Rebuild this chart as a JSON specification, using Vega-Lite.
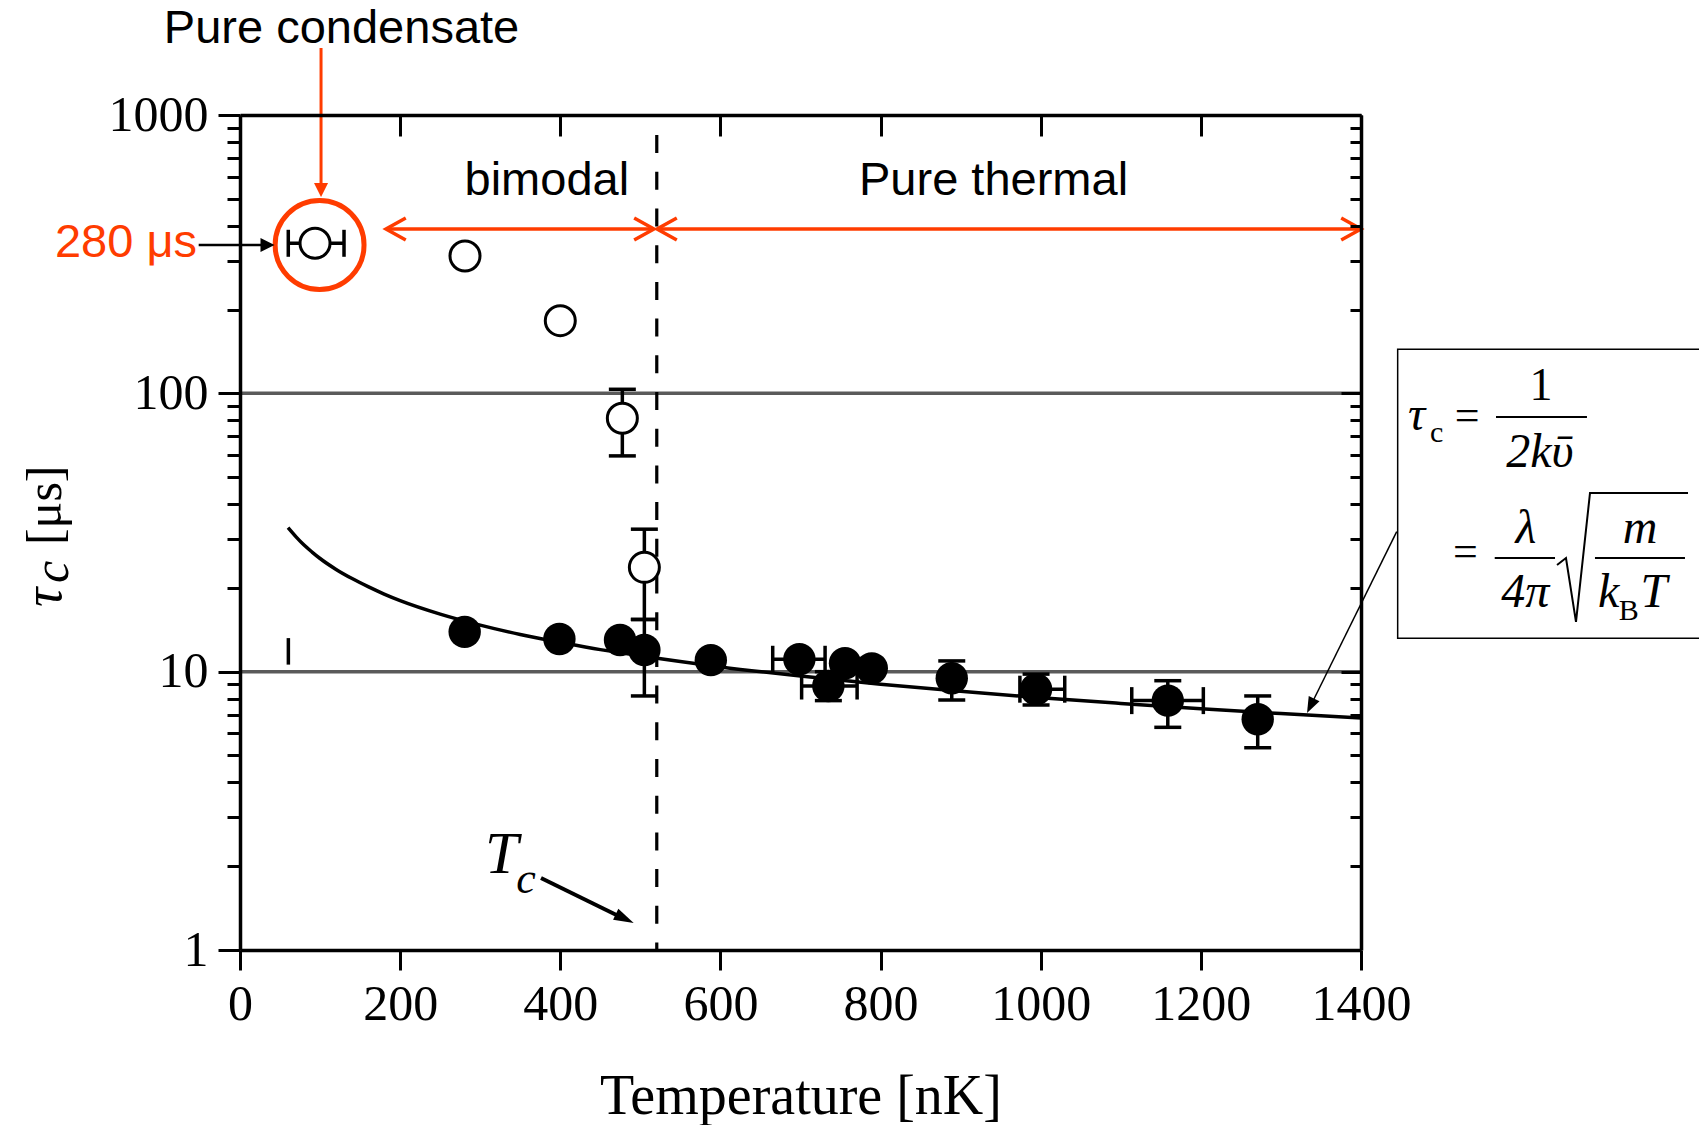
{
  "$schema": "https://vega.github.io/schema/vega-lite/v6.json",
  "autosize": {"type": "none"},
  "padding": {"left": 240, "top": 115, "right": 338, "bottom": 175},
  "width": 1121,
  "height": 835,
  "background": "white",
  "config": {"view": {"stroke": null}},
  "resolve": {"axis": {"x": "independent", "y": "independent"}},
  "layer": [
    {
      "data": {"values": [{"tau": 10}, {"tau": 100}]},
      "mark": {"type": "rule", "color": "#5a5a5a", "strokeWidth": 3.5},
      "encoding": {
        "y": {"field": "tau", "type": "quantitative", "scale": {"type": "log", "domain": [1, 1000], "nice": false}, "axis": null}
      }
    },
    {
      "data": {"values": [{"T": 520.5}]},
      "mark": {"type": "rule", "color": "black", "strokeWidth": 3.2, "strokeDash": [18, 18.7], "strokeDashOffset": 16.6},
      "encoding": {
        "x": {"field": "T", "type": "quantitative", "scale": {"domain": [0, 1400], "nice": false, "zero": false}, "axis": null}
      }
    },
    {
      "data": {"values": [
        {"T": 60, "tau": 32.9}, {"T": 70, "tau": 30.5}, {"T": 80, "tau": 28.5}, {"T": 90, "tau": 26.9},
        {"T": 100, "tau": 25.5}, {"T": 120, "tau": 23.3}, {"T": 140, "tau": 21.6}, {"T": 160, "tau": 20.2},
        {"T": 180, "tau": 19.0}, {"T": 200, "tau": 18.0}, {"T": 250, "tau": 16.1}, {"T": 300, "tau": 14.7},
        {"T": 350, "tau": 13.6}, {"T": 400, "tau": 12.75}, {"T": 450, "tau": 12.0}, {"T": 500, "tau": 11.4},
        {"T": 600, "tau": 10.4}, {"T": 700, "tau": 9.64}, {"T": 800, "tau": 9.02}, {"T": 900, "tau": 8.5},
        {"T": 1000, "tau": 8.06}, {"T": 1100, "tau": 7.69}, {"T": 1200, "tau": 7.36}, {"T": 1300, "tau": 7.07},
        {"T": 1400, "tau": 6.81}
      ]},
      "mark": {"type": "line", "color": "black", "strokeWidth": 3.5, "interpolate": "monotone"},
      "encoding": {
        "x": {"field": "T", "type": "quantitative", "scale": {"domain": [0, 1400], "nice": false, "zero": false},
          "axis": {"orient": "bottom", "values": [0, 200, 400, 600, 800, 1000, 1200, 1400], "format": "d",
            "tickSize": 20, "tickWidth": 3, "tickColor": "black", "domainColor": "black", "domainWidth": 3.5,
            "labelFont": "Liberation Serif", "labelFontSize": 50, "labelColor": "black", "labelPadding": 9,
            "labelFlush": false, "labelOverlap": false, "grid": false, "zindex": 1,
            "title": "Temperature [nK]", "titleFont": "Liberation Serif", "titleFontSize": 56,
            "titleFontWeight": "normal", "titleColor": "black", "titleBaseline": "alphabetic", "titleY": 163}},
        "y": {"field": "tau", "type": "quantitative", "scale": {"type": "log", "domain": [1, 1000], "nice": false},
          "axis": {"orient": "left",
            "values": [1, 2, 3, 4, 5, 6, 7, 8, 9, 10, 20, 30, 40, 50, 60, 70, 80, 90, 100, 200, 300, 400, 500, 600, 700, 800, 900, 1000],
            "labelExpr": "indexof([1, 10, 100, 1000], datum.value) >= 0 ? format(datum.value, 'd') : ''",
            "tickSize": {"condition": {"test": "indexof([1, 10, 100, 1000], datum.value) >= 0", "value": 22}, "value": 13},
            "tickWidth": 3, "tickColor": "black", "domainColor": "black", "domainWidth": 3.5,
            "labelFont": "Liberation Serif", "labelFontSize": 50, "labelColor": "black", "labelPadding": 10,
            "labelFlush": false, "labelOverlap": false, "grid": false, "zindex": 1, "title": null}}
      }
    },
    {
      "data": {"values": [
        {"T": 477.5, "tau": 59.6, "tau2": 103.4},
        {"T": 505, "tau": 15.4, "tau2": 32.5},
        {"T": 505, "tau": 8.18, "tau2": 15.4},
        {"T": 734.8, "tau": 7.87, "tau2": 10.0},
        {"T": 888.9, "tau": 7.91, "tau2": 10.93},
        {"T": 994.2, "tau": 7.59, "tau2": 9.8},
        {"T": 1158.7, "tau": 6.31, "tau2": 9.28},
        {"T": 1271, "tau": 5.33, "tau2": 8.18}
      ]},
      "mark": {"type": "errorbar", "size": 27, "thickness": 3.5, "color": "black",
        "ticks": {"color": "black", "opacity": 1}, "rule": {"color": "black", "opacity": 1}},
      "encoding": {
        "x": {"field": "T", "type": "quantitative", "scale": {"domain": [0, 1400], "nice": false, "zero": false}, "axis": null},
        "y": {"field": "tau", "type": "quantitative", "scale": {"type": "log", "domain": [1, 1000], "nice": false}, "axis": null},
        "y2": {"field": "tau2"}
      }
    },
    {
      "data": {"values": [
        {"T": 60.3, "T2": 129.9, "tau": 346},
        {"T": 665.3, "T2": 730.7, "tau": 11.08},
        {"T": 701.4, "T2": 770.7, "tau": 8.88},
        {"T": 974, "T2": 1030, "tau": 8.65},
        {"T": 1113.7, "T2": 1203.1, "tau": 7.87}
      ]},
      "mark": {"type": "errorbar", "size": 27, "thickness": 3.5, "color": "black",
        "ticks": {"color": "black", "opacity": 1}, "rule": {"color": "black", "opacity": 1}},
      "encoding": {
        "x": {"field": "T", "type": "quantitative", "scale": {"domain": [0, 1400], "nice": false, "zero": false}, "axis": null},
        "x2": {"field": "T2"},
        "y": {"field": "tau", "type": "quantitative", "scale": {"type": "log", "domain": [1, 1000], "nice": false}, "axis": null}
      }
    },
    {
      "data": {"values": [{"T": 60.4, "tau": 10.6, "tau2": 13.2}]},
      "mark": {"type": "rule", "color": "black", "strokeWidth": 3.5},
      "encoding": {
        "x": {"field": "T", "type": "quantitative", "scale": {"domain": [0, 1400], "nice": false, "zero": false}, "axis": null},
        "y": {"field": "tau", "type": "quantitative", "scale": {"type": "log", "domain": [1, 1000], "nice": false}, "axis": null},
        "y2": {"field": "tau2"}
      }
    },
    {
      "data": {"values": [
        {"T": 93.7, "tau": 346},
        {"T": 281, "tau": 311.4},
        {"T": 400, "tau": 182.4},
        {"T": 477.5, "tau": 81.4},
        {"T": 505, "tau": 23.7}
      ]},
      "mark": {"type": "point", "shape": "circle", "filled": true, "fill": "white", "stroke": "black", "strokeWidth": 3, "size": 900, "opacity": 1},
      "encoding": {
        "x": {"field": "T", "type": "quantitative", "scale": {"domain": [0, 1400], "nice": false, "zero": false}, "axis": null},
        "y": {"field": "tau", "type": "quantitative", "scale": {"type": "log", "domain": [1, 1000], "nice": false}, "axis": null}
      }
    },
    {
      "data": {"values": [
        {"T": 280.6, "tau": 13.9},
        {"T": 398.9, "tau": 13.1},
        {"T": 474.6, "tau": 13.0},
        {"T": 505, "tau": 11.97},
        {"T": 588, "tau": 11.0},
        {"T": 698.6, "tau": 11.08},
        {"T": 734.8, "tau": 8.88},
        {"T": 755.6, "tau": 10.72},
        {"T": 789, "tau": 10.28},
        {"T": 888.9, "tau": 9.47},
        {"T": 994.2, "tau": 8.65},
        {"T": 1158.7, "tau": 7.87},
        {"T": 1271, "tau": 6.75}
      ]},
      "mark": {"type": "point", "shape": "circle", "filled": true, "color": "black", "size": 1050, "opacity": 1},
      "encoding": {
        "x": {"field": "T", "type": "quantitative", "scale": {"domain": [0, 1400], "nice": false, "zero": false},
          "axis": {"orient": "top", "values": [0, 200, 400, 600, 800, 1000, 1200, 1400], "labels": false,
            "tickSize": -21, "tickWidth": 3, "tickColor": "black", "domainColor": "black", "domainWidth": 3.5,
            "grid": false, "zindex": 1, "title": null}},
        "y": {"field": "tau", "type": "quantitative", "scale": {"type": "log", "domain": [1, 1000], "nice": false},
          "axis": {"orient": "right",
            "values": [1, 2, 3, 4, 5, 6, 7, 8, 9, 10, 20, 30, 40, 50, 60, 70, 80, 90, 100, 200, 300, 400, 500, 600, 700, 800, 900, 1000],
            "labels": false,
            "tickSize": {"condition": {"test": "indexof([1, 10, 100, 1000], datum.value) >= 0", "value": -20}, "value": -11},
            "tickWidth": 3, "tickColor": "black", "domainColor": "black", "domainWidth": 3.5,
            "grid": false, "zindex": 1, "title": null}}
      }
    },
    {
      "data": {"values": [{"T": 99.4, "tau": 341.2}]},
      "mark": {"type": "point", "shape": "circle", "filled": false, "stroke": "#ff3c00", "strokeWidth": 5, "size": 7900, "opacity": 1},
      "encoding": {
        "x": {"field": "T", "type": "quantitative", "scale": {"domain": [0, 1400], "nice": false, "zero": false}, "axis": null},
        "y": {"field": "tau", "type": "quantitative", "scale": {"type": "log", "domain": [1, 1000], "nice": false}, "axis": null}
      }
    },
    {
      "data": {"values": [{"T": 101.2, "tau": 1741, "tau2": 537.9}]},
      "mark": {"type": "rule", "color": "#ff3c00", "strokeWidth": 3},
      "encoding": {
        "x": {"field": "T", "type": "quantitative", "scale": {"domain": [0, 1400], "nice": false, "zero": false}, "axis": null},
        "y": {"field": "tau", "type": "quantitative", "scale": {"type": "log", "domain": [1, 1000], "nice": false}, "axis": null},
        "y2": {"field": "tau2"}
      }
    },
    {
      "data": {"values": [{"T": 101.2, "tau": 507.5}]},
      "mark": {"type": "point", "shape": "M0,0L-2,-1L-2,1Z", "filled": true, "color": "#ff3c00", "size": 196, "angle": 90, "opacity": 1},
      "encoding": {
        "x": {"field": "T", "type": "quantitative", "scale": {"domain": [0, 1400], "nice": false, "zero": false}, "axis": null},
        "y": {"field": "tau", "type": "quantitative", "scale": {"type": "log", "domain": [1, 1000], "nice": false}, "axis": null}
      }
    },
    {
      "data": {"values": [{"T": 182.3, "T2": 517, "tau": 389.4}, {"T": 520.8, "T2": 1400, "tau": 389.4}]},
      "mark": {"type": "rule", "color": "#ff3c00", "strokeWidth": 3.5},
      "encoding": {
        "x": {"field": "T", "type": "quantitative", "scale": {"domain": [0, 1400], "nice": false, "zero": false}, "axis": null},
        "x2": {"field": "T2"},
        "y": {"field": "tau", "type": "quantitative", "scale": {"type": "log", "domain": [1, 1000], "nice": false}, "axis": null}
      }
    },
    {
      "data": {"values": [{"T": 182.3, "tau": 389.4}, {"T": 520.8, "tau": 389.4}]},
      "mark": {"type": "point", "shape": "M-1.8,-1L0,0L-1.8,1", "filled": false, "stroke": "#ff3c00", "strokeWidth": 3.5, "size": 484, "angle": 180, "opacity": 1},
      "encoding": {
        "x": {"field": "T", "type": "quantitative", "scale": {"domain": [0, 1400], "nice": false, "zero": false}, "axis": null},
        "y": {"field": "tau", "type": "quantitative", "scale": {"type": "log", "domain": [1, 1000], "nice": false}, "axis": null}
      }
    },
    {
      "data": {"values": [{"T": 517, "tau": 389.4}, {"T": 1400, "tau": 389.4}]},
      "mark": {"type": "point", "shape": "M-1.8,-1L0,0L-1.8,1", "filled": false, "stroke": "#ff3c00", "strokeWidth": 3.5, "size": 484, "angle": 0, "opacity": 1},
      "encoding": {
        "x": {"field": "T", "type": "quantitative", "scale": {"domain": [0, 1400], "nice": false, "zero": false}, "axis": null},
        "y": {"field": "tau", "type": "quantitative", "scale": {"type": "log", "domain": [1, 1000], "nice": false}, "axis": null}
      }
    },
    {
      "data": {"values": [{"T": -51.6, "T2": 30, "tau": 341.2}]},
      "mark": {"type": "rule", "color": "black", "strokeWidth": 2.5},
      "encoding": {
        "x": {"field": "T", "type": "quantitative", "scale": {"domain": [0, 1400], "nice": false, "zero": false}, "axis": null},
        "x2": {"field": "T2"},
        "y": {"field": "tau", "type": "quantitative", "scale": {"type": "log", "domain": [1, 1000], "nice": false}, "axis": null}
      }
    },
    {
      "data": {"values": [{"T": 43.1, "tau": 341.2}]},
      "mark": {"type": "point", "shape": "M0,0L-2,-1L-2,1Z", "filled": true, "color": "black", "size": 196, "angle": 0, "opacity": 1},
      "encoding": {
        "x": {"field": "T", "type": "quantitative", "scale": {"domain": [0, 1400], "nice": false, "zero": false}, "axis": null},
        "y": {"field": "tau", "type": "quantitative", "scale": {"type": "log", "domain": [1, 1000], "nice": false}, "axis": null}
      }
    },
    {
      "data": {"values": [{"T": -53.7, "tau": 308.9, "label": "280 μs"}]},
      "mark": {"type": "text", "font": "Liberation Sans", "fontSize": 47, "color": "#ff3c00", "align": "right", "baseline": "alphabetic"},
      "encoding": {
        "x": {"field": "T", "type": "quantitative", "scale": {"domain": [0, 1400], "nice": false, "zero": false}, "axis": null},
        "y": {"field": "tau", "type": "quantitative", "scale": {"type": "log", "domain": [1, 1000], "nice": false}, "axis": null},
        "text": {"field": "label"}
      }
    },
    {
      "data": {"values": [
        {"T": 126.8, "tau": 1809.6, "label": "Pure condensate"},
        {"T": 383.2, "tau": 516, "label": "bimodal"},
        {"T": 941.1, "tau": 516, "label": "Pure thermal"}
      ]},
      "mark": {"type": "text", "font": "Liberation Sans", "fontSize": 47, "color": "black", "align": "center", "baseline": "alphabetic"},
      "encoding": {
        "x": {"field": "T", "type": "quantitative", "scale": {"domain": [0, 1400], "nice": false, "zero": false}, "axis": null},
        "y": {"field": "tau", "type": "quantitative", "scale": {"type": "log", "domain": [1, 1000], "nice": false}, "axis": null},
        "text": {"field": "label"}
      }
    },
    {
      "data": {"values": [{"T": 306, "tau": 1.891, "label": "T"}]},
      "mark": {"type": "text", "font": "Liberation Serif", "fontSize": 60, "fontStyle": "italic", "color": "black", "align": "left", "baseline": "alphabetic"},
      "encoding": {
        "x": {"field": "T", "type": "quantitative", "scale": {"domain": [0, 1400], "nice": false, "zero": false}, "axis": null},
        "y": {"field": "tau", "type": "quantitative", "scale": {"type": "log", "domain": [1, 1000], "nice": false}, "axis": null},
        "text": {"field": "label"}
      }
    },
    {
      "data": {"values": [{"T": 345, "tau": 1.603, "label": "c"}]},
      "mark": {"type": "text", "font": "Liberation Serif", "fontSize": 44, "fontStyle": "italic", "color": "black", "align": "left", "baseline": "alphabetic"},
      "encoding": {
        "x": {"field": "T", "type": "quantitative", "scale": {"domain": [0, 1400], "nice": false, "zero": false}, "axis": null},
        "y": {"field": "tau", "type": "quantitative", "scale": {"type": "log", "domain": [1, 1000], "nice": false}, "axis": null},
        "text": {"field": "label"}
      }
    },
    {
      "data": {"values": [{"T": 375.9, "T2": 474.6, "tau": 1.814, "tau2": 1.317}]},
      "mark": {"type": "rule", "color": "black", "strokeWidth": 4},
      "encoding": {
        "x": {"field": "T", "type": "quantitative", "scale": {"domain": [0, 1400], "nice": false, "zero": false}, "axis": null},
        "x2": {"field": "T2"},
        "y": {"field": "tau", "type": "quantitative", "scale": {"type": "log", "domain": [1, 1000], "nice": false}, "axis": null},
        "y2": {"field": "tau2"}
      }
    },
    {
      "data": {"values": [{"T": 491.7, "tau": 1.2506}]},
      "mark": {"type": "point", "shape": "M0,0L-2,-0.6L-2,0.6Z", "filled": true, "color": "black", "size": 400, "angle": 25.9, "opacity": 1},
      "encoding": {
        "x": {"field": "T", "type": "quantitative", "scale": {"domain": [0, 1400], "nice": false, "zero": false}, "axis": null},
        "y": {"field": "tau", "type": "quantitative", "scale": {"type": "log", "domain": [1, 1000], "nice": false}, "axis": null}
      }
    },
    {
      "data": {"values": [{"T": 1445.8, "T2": 1830, "tau": 143.9, "tau2": 13.18}]},
      "mark": {"type": "rect", "filled": false, "color": "black", "strokeWidth": 1.5},
      "encoding": {
        "x": {"field": "T", "type": "quantitative", "scale": {"domain": [0, 1400], "nice": false, "zero": false}, "axis": null},
        "x2": {"field": "T2"},
        "y": {"field": "tau", "type": "quantitative", "scale": {"type": "log", "domain": [1, 1000], "nice": false}, "axis": null},
        "y2": {"field": "tau2"}
      }
    },
    {
      "data": {"values": [{"T": 1444.6, "T2": 1336.8, "tau": 31.84, "tau2": 7.51}]},
      "mark": {"type": "rule", "color": "black", "strokeWidth": 1.5},
      "encoding": {
        "x": {"field": "T", "type": "quantitative", "scale": {"domain": [0, 1400], "nice": false, "zero": false}, "axis": null},
        "x2": {"field": "T2"},
        "y": {"field": "tau", "type": "quantitative", "scale": {"type": "log", "domain": [1, 1000], "nice": false}, "axis": null},
        "y2": {"field": "tau2"}
      }
    },
    {
      "data": {"values": [{"T": 1332.6, "tau": 7.105}]},
      "mark": {"type": "point", "shape": "M0,0L-2,-0.75L-2,0.75Z", "filled": true, "color": "black", "size": 256, "angle": 116.3, "opacity": 1},
      "encoding": {
        "x": {"field": "T", "type": "quantitative", "scale": {"domain": [0, 1400], "nice": false, "zero": false}, "axis": null},
        "y": {"field": "tau", "type": "quantitative", "scale": {"type": "log", "domain": [1, 1000], "nice": false}, "axis": null}
      }
    },
    {
      "data": {"values": [
        {"T": 1568.6, "T2": 1682.2, "tau": 82.2},
        {"T": 1567, "T2": 1642.3, "tau": 25.6},
        {"T": 1692.2, "T2": 1804.6, "tau": 25.6}
      ]},
      "mark": {"type": "rule", "color": "black", "strokeWidth": 2},
      "encoding": {
        "x": {"field": "T", "type": "quantitative", "scale": {"domain": [0, 1400], "nice": false, "zero": false}, "axis": null},
        "x2": {"field": "T2"},
        "y": {"field": "tau", "type": "quantitative", "scale": {"type": "log", "domain": [1, 1000], "nice": false}, "axis": null}
      }
    },
    {
      "data": {"values": [
        {"T": 1644.8, "tau": 24.17, "i": 1},
        {"T": 1656.0, "tau": 25.6, "i": 2},
        {"T": 1668.5, "tau": 15.09, "i": 3},
        {"T": 1686.0, "tau": 43.85, "i": 4},
        {"T": 1808.4, "tau": 43.85, "i": 5}
      ]},
      "mark": {"type": "line", "color": "black", "strokeWidth": 2},
      "encoding": {
        "x": {"field": "T", "type": "quantitative", "scale": {"domain": [0, 1400], "nice": false, "zero": false}, "axis": null},
        "y": {"field": "tau", "type": "quantitative", "scale": {"type": "log", "domain": [1, 1000], "nice": false}, "axis": null},
        "order": {"field": "i", "type": "quantitative"}
      }
    },
    {
      "data": {"values": [
        {"T": 1623.5, "tau": 54.4, "label": "2kῡ"},
        {"T": 1606, "tau": 29.0, "label": "λ"},
        {"T": 1605, "tau": 17.08, "label": "4π"},
        {"T": 1748.4, "tau": 29.0, "label": "m"}
      ]},
      "mark": {"type": "text", "font": "Liberation Serif", "fontSize": 48, "fontStyle": "italic", "color": "black", "align": "center", "baseline": "alphabetic"},
      "encoding": {
        "x": {"field": "T", "type": "quantitative", "scale": {"domain": [0, 1400], "nice": false, "zero": false}, "axis": null},
        "y": {"field": "tau", "type": "quantitative", "scale": {"type": "log", "domain": [1, 1000], "nice": false}, "axis": null},
        "text": {"field": "label"}
      }
    },
    {
      "data": {"values": [
        {"T": 1458.7, "tau": 73.85, "label": "τ"},
        {"T": 1695.9, "tau": 17.08, "label": "k"},
        {"T": 1749, "tau": 17.08, "label": "T"}
      ]},
      "mark": {"type": "text", "font": "Liberation Serif", "fontSize": 48, "fontStyle": "italic", "color": "black", "align": "left", "baseline": "alphabetic"},
      "encoding": {
        "x": {"field": "T", "type": "quantitative", "scale": {"domain": [0, 1400], "nice": false, "zero": false}, "axis": null},
        "y": {"field": "tau", "type": "quantitative", "scale": {"type": "log", "domain": [1, 1000], "nice": false}, "axis": null},
        "text": {"field": "label"}
      }
    },
    {
      "data": {"values": [
        {"T": 1517, "tau": 73.85, "label": "="},
        {"T": 1515, "tau": 23.97, "label": "="}
      ]},
      "mark": {"type": "text", "font": "Liberation Serif", "fontSize": 44, "color": "black", "align": "left", "baseline": "alphabetic"},
      "encoding": {
        "x": {"field": "T", "type": "quantitative", "scale": {"domain": [0, 1400], "nice": false, "zero": false}, "axis": null},
        "y": {"field": "tau", "type": "quantitative", "scale": {"type": "log", "domain": [1, 1000], "nice": false}, "axis": null},
        "text": {"field": "label"}
      }
    },
    {
      "data": {"values": [{"T": 1624.8, "tau": 94.6, "label": "1"}]},
      "mark": {"type": "text", "font": "Liberation Serif", "fontSize": 46, "color": "black", "align": "center", "baseline": "alphabetic"},
      "encoding": {
        "x": {"field": "T", "type": "quantitative", "scale": {"domain": [0, 1400], "nice": false, "zero": false}, "axis": null},
        "y": {"field": "tau", "type": "quantitative", "scale": {"type": "log", "domain": [1, 1000], "nice": false}, "axis": null},
        "text": {"field": "label"}
      }
    },
    {
      "data": {"values": [
        {"T": 1486.2, "tau": 66.9, "label": "c"},
        {"T": 1722, "tau": 15.33, "label": "B"}
      ]},
      "mark": {"type": "text", "font": "Liberation Serif", "fontSize": 30, "color": "black", "align": "left", "baseline": "alphabetic"},
      "encoding": {
        "x": {"field": "T", "type": "quantitative", "scale": {"domain": [0, 1400], "nice": false, "zero": false}, "axis": null},
        "y": {"field": "tau", "type": "quantitative", "scale": {"type": "log", "domain": [1, 1000], "nice": false}, "axis": null},
        "text": {"field": "label"}
      }
    },
    {
      "data": {"values": [{"T": -223.5, "tau": 17.08, "label": "τ"}]},
      "mark": {"type": "text", "font": "Liberation Serif", "fontSize": 54, "fontStyle": "italic", "color": "black", "align": "left", "baseline": "alphabetic", "angle": 270},
      "encoding": {
        "x": {"field": "T", "type": "quantitative", "scale": {"domain": [0, 1400], "nice": false, "zero": false}, "axis": null},
        "y": {"field": "tau", "type": "quantitative", "scale": {"type": "log", "domain": [1, 1000], "nice": false}, "axis": null},
        "text": {"field": "label"}
      }
    },
    {
      "data": {"values": [{"T": -214.8, "tau": 20.83, "label": "c"}]},
      "mark": {"type": "text", "font": "Liberation Serif", "fontSize": 50, "fontStyle": "italic", "color": "black", "align": "left", "baseline": "alphabetic", "angle": 270},
      "encoding": {
        "x": {"field": "T", "type": "quantitative", "scale": {"domain": [0, 1400], "nice": false, "zero": false}, "axis": null},
        "y": {"field": "tau", "type": "quantitative", "scale": {"type": "log", "domain": [1, 1000], "nice": false}, "axis": null},
        "text": {"field": "label"}
      }
    },
    {
      "data": {"values": [{"T": -223.5, "tau": 28.5, "label": "[μs]"}]},
      "mark": {"type": "text", "font": "Liberation Serif", "fontSize": 50, "color": "black", "align": "left", "baseline": "alphabetic", "angle": 270},
      "encoding": {
        "x": {"field": "T", "type": "quantitative", "scale": {"domain": [0, 1400], "nice": false, "zero": false}, "axis": null},
        "y": {"field": "tau", "type": "quantitative", "scale": {"type": "log", "domain": [1, 1000], "nice": false}, "axis": null},
        "text": {"field": "label"}
      }
    }
  ]
}
